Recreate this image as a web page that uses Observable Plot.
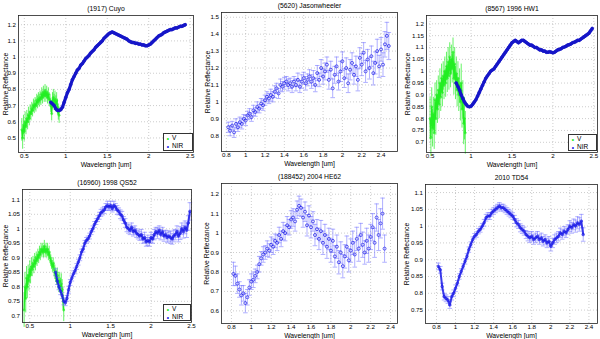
<!DOCTYPE html>
<html><head><meta charset="utf-8">
<script src="https://cdn.jsdelivr.net/npm/d3@7"></script>
<script src="https://cdn.jsdelivr.net/npm/@observablehq/plot@0.6"></script>
<style>
body{margin:0;background:#fff;}
#wrap{position:relative;width:600px;height:339px;background:#fff;overflow:hidden;font-family:"Liberation Sans",Arial,sans-serif;}
#wrap svg{position:absolute;}
.leg{position:absolute;border:1px solid #333;background:#fff;font-size:6.5px;line-height:8px;color:#000;box-sizing:border-box;padding:0 2px;}
.leg span.m{display:inline-block;width:6px;font-size:6px;}
</style></head>
<body><div id="wrap"></div>
<script>
// ---------- data ----------
const nirWl = [0.82,0.84,0.86,0.88,0.90,0.92,0.94,0.96,0.98,1.00,
1.02,1.04,1.06,1.08,1.10,1.12,1.14,1.16,1.18,1.20,
1.22,1.24,1.26,1.28,1.30,1.32,1.34,1.36,1.38,1.40,
1.42,1.44,1.46,1.48,1.50,1.52,1.54,1.56,1.58,1.60,
1.62,1.64,1.66,1.68,1.70,1.72,1.74,1.76,1.78,1.80,
1.82,1.84,1.86,1.88,1.90,1.92,1.94,1.96,1.98,2.00,
2.02,2.04,2.06,2.08,2.10,2.12,2.14,2.16,2.18,2.20,
2.22,2.24,2.26,2.28,2.30,2.32,2.34,2.36,2.38,2.40,
2.42,2.44,2.46,2.48];
const visWl = [0.43,0.44,0.45,0.46,0.47,0.48,0.49,0.50,0.51,0.52,
0.53,0.54,0.55,0.56,0.57,0.58,0.59,0.60,0.61,0.62,
0.63,0.64,0.65,0.66,0.67,0.68,0.69,0.70,0.71,0.72,
0.73,0.74,0.75,0.76,0.77,0.78,0.79,0.80,0.81,0.82,
0.83,0.84,0.85,0.86,0.87,0.88,0.89,0.90,0.91,0.92,0.93];

// (1917) Cuyo
const cuyoV = [null,null,null,null,.55,.50,.58,.54,.60,.57,
.62,.60,.64,.62,.66,.65,.68,.67,.70,.69,
.71,.70,.73,.72,.74,.73,.75,.74,.77,.75,
.78,.76,.79,.76,.78,.75,.77,.74,.73,.70,
.65,.73,.75,.72,.74,.71,.73,.69,.66,.64,null];
const cuyoVErr = [null,null,null,null,.07,.07,.06,.06,.06,.05,
.05,.05,.05,.045,.045,.045,.04,.04,.04,.04,
.04,.04,.04,.04,.04,.04,.04,.04,.04,.04,
.04,.04,.04,.04,.04,.04,.04,.04,.04,.045,
.045,.05,.05,.05,.05,.05,.05,.05,.05,.05,null];
const cuyoNir = [.72,.71,.70,.68,.67,.67,.675,.69,.72,.75,
.78,.80,.83,.86,.88,.90,.92,.93,.95,.96,
.975,.99,1.00,1.01,1.025,1.035,1.045,1.06,1.07,1.08,
1.09,1.10,1.115,1.125,1.135,1.145,1.15,1.155,1.15,1.145,
1.14,1.135,1.13,1.125,1.12,1.115,1.11,1.10,1.095,1.09,
1.09,1.085,1.085,1.08,1.08,1.075,1.075,1.07,1.07,1.075,
1.08,1.09,1.10,1.11,1.12,1.13,1.135,1.14,1.15,1.155,
1.16,1.165,1.17,1.17,1.175,1.18,1.18,1.185,1.19,1.19,
1.195,1.20];

// (5620) Jasonwheeler
const jasonNir = [.85,.83,.86,.82,.87,.85,.88,.87,.90,.89,
.92,.93,.91,.95,.94,.97,.96,.99,.98,1.01,
1.03,1.02,1.04,1.03,1.06,1.08,1.05,1.10,1.09,1.11,
1.12,1.10,1.11,1.09,1.12,1.10,1.13,1.09,1.12,1.14,
1.11,1.13,1.15,1.12,1.14,1.10,1.17,1.13,1.20,1.15,
1.18,1.22,1.13,1.19,1.08,1.16,1.21,1.12,1.18,1.24,
1.14,1.20,1.11,1.19,1.23,1.16,1.21,1.13,1.26,1.22,
1.29,1.18,1.25,1.20,1.27,1.17,1.23,1.30,1.21,1.31,
1.22,1.34,1.39,1.33];
const jasonErr = [.03,.03,.025,.03,.03,.025,.03,.03,.025,.03,
.025,.03,.025,.03,.025,.03,.025,.03,.03,.03,
.03,.03,.035,.03,.035,.03,.03,.035,.03,.035,
.03,.035,.03,.035,.03,.035,.04,.035,.04,.035,
.04,.035,.04,.04,.045,.04,.045,.04,.05,.045,
.05,.045,.055,.05,.055,.05,.055,.05,.06,.055,
.055,.06,.055,.06,.06,.055,.06,.065,.06,.065,
.06,.065,.06,.065,.06,.07,.065,.07,.065,.07,
.07,.075,.08,.08];

// (8567) 1996 HW1
const hw1V = [null,null,null,null,null,null,null,.80,.72,.85,
.76,.82,.74,.88,.80,.90,.84,.92,.86,.95,
.89,.97,.91,.98,.94,1.00,.95,1.02,.97,1.04,
.98,1.06,.99,1.05,1.01,1.08,.97,1.03,.95,.99,
.92,.97,.90,.94,.87,.95,.84,.88,.78,.80,.74];
const hw1VErr = [null,null,null,null,null,null,null,.09,.08,.08,
.08,.07,.07,.07,.07,.06,.06,.06,.06,.06,
.06,.06,.06,.06,.06,.06,.06,.06,.06,.06,
.06,.06,.06,.06,.06,.06,.07,.07,.07,.07,
.07,.07,.07,.07,.08,.08,.08,.08,.09,.09,.09];
const hw1Nir = [.95,.935,.92,.90,.885,.87,.86,.852,.85,.852,
.86,.87,.88,.895,.91,.925,.94,.955,.97,.98,
.99,1.00,1.005,1.01,1.02,1.03,1.04,1.05,1.06,1.07,
1.08,1.09,1.10,1.11,1.12,1.125,1.13,1.125,1.12,1.125,
1.13,1.13,1.125,1.12,1.115,1.11,1.11,1.105,1.10,1.10,
1.095,1.09,1.09,1.085,1.085,1.08,1.08,1.082,1.08,1.078,
1.08,1.085,1.09,1.092,1.095,1.10,1.102,1.105,1.11,1.112,
1.115,1.12,1.122,1.125,1.13,1.13,1.135,1.14,1.145,1.15,
1.155,1.16,1.17,1.18];

// (16960) 1998 QS52
const qs52V = [.72,.80,.76,.83,.80,.84,.82,.86,.84,.87,
.86,.88,.87,.89,.88,.90,.89,.91,.90,.92,
.91,.93,.92,.93,.92,.94,.92,.93,.92,.93,
.91,.92,.90,.89,.88,.87,.88,.86,.85,.84,
.83,.84,.82,.81,.82,.80,.81,.79,.76,.72,null];
const qs52VErr = [.06,.05,.05,.04,.04,.035,.035,.03,.03,.03,
.025,.025,.025,.025,.025,.02,.02,.02,.02,.02,
.02,.02,.02,.02,.02,.02,.02,.02,.02,.02,
.02,.02,.02,.02,.02,.02,.02,.025,.025,.025,
.025,.025,.03,.03,.03,.03,.035,.035,.04,.04,null];
const qs52Nir = [.85,.82,.80,.785,.77,.75,.745,.76,.79,.815,
.83,.845,.855,.87,.885,.90,.92,.93,.95,.96,
.965,.975,.99,1.00,1.015,1.025,1.035,1.045,1.055,1.06,
1.065,1.075,1.08,1.075,1.08,1.07,1.08,1.075,1.065,1.06,
1.05,1.045,1.03,1.02,1.005,1.00,.995,1.005,.99,.995,
.985,.98,.975,.98,.965,.97,.955,.96,.955,.97,
.965,.98,.99,.985,.995,.98,.99,.975,.98,.97,
.975,.97,.965,.975,.98,.99,.975,.985,1.00,.99,
1.005,.995,1.02,1.06];
const qs52Err = [.012,.012,.01,.012,.01,.012,.01,.01,.012,.01,
.01,.01,.01,.01,.01,.01,.01,.01,.01,.01,
.01,.01,.01,.01,.01,.01,.01,.012,.012,.012,
.012,.012,.015,.012,.015,.012,.015,.012,.015,.012,
.015,.015,.012,.015,.015,.015,.015,.015,.015,.015,
.015,.015,.015,.018,.015,.018,.015,.018,.015,.018,
.015,.018,.015,.018,.015,.018,.015,.018,.015,.018,
.018,.02,.018,.02,.018,.02,.02,.022,.02,.022,
.022,.025,.025,.03];

// (188452) 2004 HE62
const he62Nir = [.79,.78,.74,.71,.68,.69,.64,.67,.72,.75,
.76,.78,.80,.84,.87,.89,.90,.92,.91,.94,
.93,.96,.95,.99,.97,1.01,1.00,1.04,1.03,1.07,
1.08,1.06,1.12,1.14,1.13,1.08,1.11,1.04,1.09,1.03,
1.06,.99,1.02,.97,1.01,.95,.99,.93,.97,.91,
.96,.88,.93,.85,.90,.83,.88,.93,.86,.91,
.95,.89,.97,.92,.99,.94,.90,.96,.92,.98,
1.03,.95,1.08,.99,1.05,1.10,.92];
const he62Err = [.06,.05,.05,.04,.05,.04,.05,.04,.04,.04,
.04,.035,.035,.04,.035,.04,.035,.04,.035,.04,
.04,.035,.04,.04,.04,.045,.04,.045,.04,.045,
.045,.05,.045,.05,.045,.05,.05,.055,.05,.055,
.05,.055,.05,.055,.055,.06,.055,.06,.055,.06,
.06,.055,.06,.06,.055,.06,.06,.055,.06,.06,
.06,.065,.06,.065,.06,.065,.06,.065,.07,.065,
.07,.075,.07,.08,.075,.08,.07];

// 2010 TD54
const td54Nir = [.88,.87,.82,.79,.785,.78,.765,.79,.80,.815,
.83,.85,.865,.88,.895,.91,.93,.945,.96,.97,
.975,.985,.99,1.0,1.01,1.025,1.03,1.03,1.04,1.045,
1.05,1.055,1.06,1.055,1.055,1.05,1.045,1.04,1.035,1.03,
1.02,1.01,1.005,.995,.99,.985,.975,.97,.965,.97,
.96,.965,.97,.96,.965,.955,.96,.95,.955,.94,
.95,.96,.965,.97,.98,.975,.985,.98,.99,1.0,
.995,1.005,1.0,1.01,1.005,1.015,.975];
const td54Err = [.01,.01,.01,.01,.01,.01,.01,.01,.01,.01,
.008,.008,.008,.008,.008,.008,.008,.008,.008,.008,
.008,.008,.008,.008,.01,.01,.01,.01,.01,.01,
.01,.01,.01,.01,.01,.01,.01,.01,.01,.01,
.012,.012,.012,.012,.012,.012,.012,.014,.014,.014,
.014,.014,.014,.014,.014,.014,.014,.014,.014,.014,
.014,.014,.014,.014,.014,.014,.014,.014,.014,.016,
.016,.016,.018,.018,.02,.02,.02];

// tick values
const xTicksA = [0.5,1,1.5,2,2.5];
const xTicksB = [0.8,1,1.2,1.4,1.6,1.8,2,2.2,2.4];
const yTicksCuyo = [0.5,0.6,0.7,0.8,0.9,1,1.1,1.2];
const yTicksJason = [0.8,0.9,1,1.1,1.2,1.3,1.4,1.5];
const yTicksHW1 = [0.7,0.75,0.8,0.85,0.9,0.95,1,1.05,1.1,1.15,1.2];
const yTicksQS52 = [0.7,0.75,0.8,0.85,0.9,0.95,1,1.05,1.1];
const yTicksHE62 = [0.6,0.7,0.8,0.9,1,1.1,1.2];
const yTicksTD54 = [0.75,0.8,0.85,0.9,0.95,1,1.05,1.1];

const titles = ["(1917) Cuyo","(5620) Jasonwheeler","(8567) 1996 HW1","(16960) 1998 QS52","(188452) 2004 HE62","2010 TD54"];
const xLabel = "Wavelength [um]";
const yLabel = "Relative Reflectance";
const legendLabels = ["V","NIR"];

// ---------- helpers ----------
const GREEN = "#22ee22", BLUE = "#1a1ae6", DBLUE = "#1515c8", LBLUE = "#7b7bff";
function rows(wl, r, e) {
  const out = [];
  r.forEach((v, i) => { if (v != null) out.push({w: wl[i], r: v, e: e ? e[i] : 0}); });
  return out;
}
const fmt = d => String(+d.toFixed(2));
const capSymbol = { draw(ctx, size) { const w = Math.sqrt(size); ctx.moveTo(-w, 0); ctx.lineTo(w, 0); } };

// style: 0 = smooth band, 1 = band with error bars, 2 = scattered with error bars
const panels = [
  {title: titles[0], cell:[0,0,200,170], m:[15,7,18,18], xd:[0.43,2.54], yd:[0.41,1.257], xt:xTicksA, yt:yTicksCuyo,
   vis: rows(visWl, cuyoV, cuyoVErr), nir: rows(nirWl, cuyoNir), kind:0, ylOff:13, legend:[163,133,30,18]},
  {title: titles[1], cell:[200,0,200,170], m:[12,3,19,21], xd:[0.75,2.57], yd:[0.707,1.528], xt:xTicksB, yt:yTicksJason,
   nir: rows(nirWl, jasonNir, jasonErr), kind:2, ylOff:14},
  {title: titles[2], cell:[400,0,200,170], m:[15,3,18,26], xd:[0.456,2.545], yd:[0.657,1.235], xt:xTicksA, yt:yTicksHW1,
   vis: rows(visWl, hw1V, hw1VErr), nir: rows(nirWl, hw1Nir), kind:0, ylOff:19, legend:[568,134,29,17]},
  {title: titles[3], cell:[0,170,200,169], m:[19,9,17,22], xd:[0.41,2.5], yd:[0.677,1.1355], xt:xTicksA, yt:yTicksQS52,
   vis: rows(visWl, qs52V, qs52VErr), nir: rows(nirWl, qs52Nir, qs52Err), kind:1, ylOff:17, legend:[163,304,28,17]},
  {title: titles[4], cell:[200,170,200,169], m:[13,3,16,21], xd:[0.70,2.47], yd:[0.535,1.255], xt:xTicksB, yt:yTicksHE62,
   nir: rows(nirWl, he62Nir, he62Err), kind:2, ylOff:15},
  {title: titles[5], cell:[400,170,200,169], m:[14,3,16,25], xd:[0.685,2.49], yd:[0.71,1.124], xt:xTicksB, yt:yTicksTD54,
   nir: rows(nirWl, td54Nir, td54Err), kind:1, ylOff:19}
];

const wrap = document.getElementById("wrap");
for (const p of panels) {
  const [cx, cy, cw, ch] = p.cell;
  const marks = [
    Plot.gridX({ticks: p.xt, stroke: "#9a9a9a", strokeOpacity: 1, strokeDasharray: "1,2", strokeWidth: 0.5}),
    Plot.gridY({ticks: p.yt, stroke: "#9a9a9a", strokeOpacity: 1, strokeDasharray: "1,2", strokeWidth: 0.5})
  ];
  if (p.vis) {
    marks.push(Plot.ruleX(p.vis, {x: "w", y1: d => d.r - d.e, y2: d => d.r + d.e, stroke: GREEN, strokeWidth: 0.7}));
    marks.push(Plot.line(p.vis, {x: "w", y: "r", stroke: GREEN, strokeWidth: 1.2}));
    marks.push(Plot.dot(p.vis, {x: "w", y: "r", r: 1, stroke: GREEN, strokeWidth: 0.7, fill: "none"}));
  }
  if (p.kind > 0) {
    marks.push(Plot.ruleX(p.nir, {x: "w", y1: d => d.r - d.e, y2: d => d.r + d.e, stroke: LBLUE, strokeWidth: 0.6}));
    marks.push(Plot.dot(p.nir, {x: "w", y: d => d.r - d.e, symbol: capSymbol, r: 1.3, stroke: LBLUE, strokeWidth: 0.6}));
    marks.push(Plot.dot(p.nir, {x: "w", y: d => d.r + d.e, symbol: capSymbol, r: 1.3, stroke: LBLUE, strokeWidth: 0.6}));
  }
  if (p.kind === 0) {
    marks.push(Plot.line(p.nir, {x: "w", y: "r", stroke: DBLUE, strokeWidth: 3.2}));
    marks.push(Plot.dot(p.nir, {x: "w", y: "r", r: 1.4, stroke: DBLUE, strokeWidth: 0.8, fill: "none"}));
  } else if (p.kind === 1) {
    marks.push(Plot.line(p.nir, {x: "w", y: "r", stroke: BLUE, strokeWidth: 2, strokeOpacity: 0.85}));
    marks.push(Plot.dot(p.nir, {x: "w", y: "r", r: 1.3, stroke: BLUE, strokeWidth: 0.7, fill: "none"}));
  } else {
    marks.push(Plot.dot(p.nir, {x: "w", y: "r", r: 1.5, stroke: BLUE, strokeWidth: 0.7, fill: "none"}));
  }
  marks.push(
    Plot.frame({stroke: "#222", strokeWidth: 0.8}),
    Plot.axisX({ticks: p.xt, tickFormat: fmt, tickSize: 0, tickPadding: 1.5, label: null, fontSize: 6.2}),
    Plot.axisY({ticks: p.yt, tickFormat: fmt, tickSize: 0, tickPadding: 2.5, label: null, fontSize: 6.2}),
    Plot.text([p.title], {text: d => d, frameAnchor: "top", dy: -7, lineAnchor: "middle", textAnchor: "middle", fontSize: 6.8}),
    Plot.text([xLabel], {text: d => d, frameAnchor: "bottom", dy: 12, lineAnchor: "middle", textAnchor: "middle", fontSize: 6.8}),
    Plot.text([yLabel], {text: d => d, frameAnchor: "left", dx: -p.ylOff, rotate: -90, lineAnchor: "middle", textAnchor: "middle", fontSize: 6.8})
  );
  const svg = Plot.plot({
    width: cw, height: ch,
    marginTop: p.m[0], marginRight: p.m[1], marginBottom: p.m[2], marginLeft: p.m[3],
    x: {domain: p.xd}, y: {domain: p.yd},
    style: {fontFamily: "'Liberation Sans', Arial, sans-serif", fontSize: "6.2px", color: "#000", background: "transparent", overflow: "visible"},
    marks
  });
  svg.style.left = cx + "px";
  svg.style.top = cy + "px";
  wrap.appendChild(svg);
  if (p.legend) {
    const [lx, ly, lw, lh] = p.legend;
    const d = document.createElement("div");
    d.className = "leg";
    d.style.left = lx + "px"; d.style.top = ly + "px"; d.style.width = lw + "px"; d.style.height = lh + "px";
    d.innerHTML = `<div><span class="m" style="color:${GREEN}">&#x2218;</span>${legendLabels[0]}</div><div><span class="m" style="color:${BLUE}">&#x2218;</span>${legendLabels[1]}</div>`;
    wrap.appendChild(d);
  }
}
</script></body></html>
